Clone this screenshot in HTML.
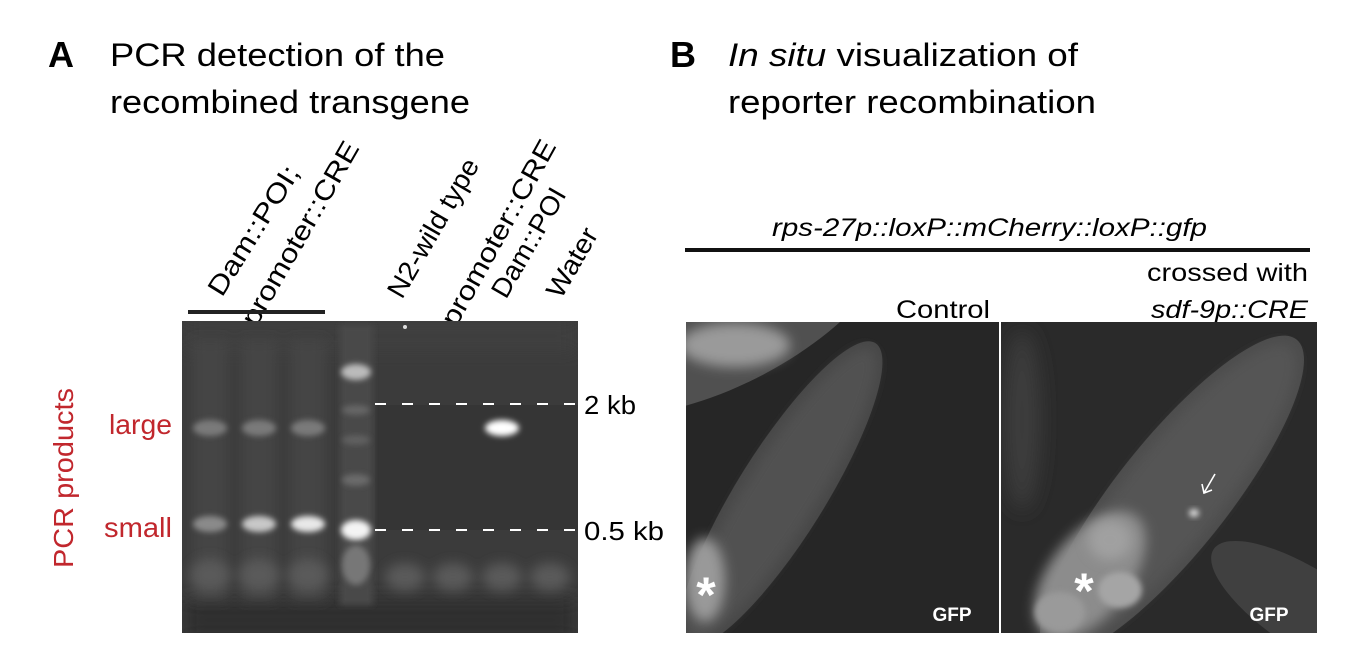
<!DOCTYPE html>
<html><head><meta charset="utf-8"><style>
html,body{margin:0;padding:0;background:#fff;width:1355px;height:667px;overflow:hidden}
svg{display:block}
text{font-family:"Liberation Sans",Arial,sans-serif}
</style></head><body>
<svg width="1355" height="667" viewBox="0 0 1355 667" xmlns="http://www.w3.org/2000/svg">
<defs>
<filter id="b3" x="-50%" y="-50%" width="200%" height="200%"><feGaussianBlur stdDeviation="3"/></filter>
<filter id="b6" x="-50%" y="-50%" width="200%" height="200%"><feGaussianBlur stdDeviation="6"/></filter>
<filter id="b10" x="-50%" y="-50%" width="200%" height="200%"><feGaussianBlur stdDeviation="10"/></filter>
<clipPath id="gel"><rect x="182" y="321" width="396" height="312"/></clipPath>
<clipPath id="p1"><rect x="686" y="322" width="313" height="311"/></clipPath>
<clipPath id="p2"><rect x="1001" y="322" width="316" height="311"/></clipPath>
</defs>

<!-- Titles -->
<text x="48" y="67" font-size="36" font-weight="bold">A</text>
<text x="110" y="66" font-size="32" textLength="335" lengthAdjust="spacingAndGlyphs">PCR detection of the</text>
<text x="110" y="113" font-size="32" textLength="360" lengthAdjust="spacingAndGlyphs">recombined transgene</text>
<text x="670" y="67" font-size="36" font-weight="bold">B</text>
<text x="728" y="66" font-size="32" textLength="350" lengthAdjust="spacingAndGlyphs"><tspan font-style="italic">In situ</tspan> visualization of</text>
<text x="728" y="113" font-size="32" textLength="368" lengthAdjust="spacingAndGlyphs">reporter recombination</text>

<!-- Rotated lane labels -->
<g font-size="27">
<text transform="translate(222,298) rotate(-58)" textLength="148" lengthAdjust="spacingAndGlyphs">Dam::POI;</text>
<text transform="translate(256,328) rotate(-60)" textLength="208" lengthAdjust="spacingAndGlyphs">promoter::CRE</text>
<text transform="translate(402,300) rotate(-60)" textLength="156" lengthAdjust="spacingAndGlyphs">N2-wild type</text>
<text transform="translate(456,328) rotate(-61)" textLength="208" lengthAdjust="spacingAndGlyphs">promoter::CRE</text>
<text transform="translate(506,300) rotate(-60)" textLength="122" lengthAdjust="spacingAndGlyphs">Dam::POI</text>
<text transform="translate(561,300) rotate(-60)" textLength="76" lengthAdjust="spacingAndGlyphs">Water</text>
</g>
<rect x="188" y="310" width="137" height="4" fill="#222"/>

<!-- Gel -->
<rect x="182" y="321" width="396" height="312" fill="#3b3b3b"/>
<g clip-path="url(#gel)">
<rect x="182" y="321" width="396" height="30" fill="#404040" filter="url(#b10)"/>
<rect x="182" y="600" width="396" height="40" fill="#2e2e2e" filter="url(#b10)"/>
<rect x="375" y="405" width="203" height="125" fill="#353535"/>
<g fill="#444" filter="url(#b6)">
<rect x="192" y="340" width="36" height="260"/><rect x="241" y="340" width="36" height="260"/><rect x="290" y="340" width="36" height="260"/>
</g>
<rect x="340" y="325" width="33" height="280" fill="#4a4a4a" filter="url(#b3)"/>
<ellipse cx="356" cy="372" rx="15" ry="8" fill="#bbb" filter="url(#b3)"/>
<ellipse cx="356" cy="410" rx="14" ry="5" fill="#666" filter="url(#b3)"/>
<ellipse cx="356" cy="440" rx="14" ry="5" fill="#606060" filter="url(#b3)"/>
<ellipse cx="356" cy="480" rx="14" ry="6" fill="#6a6a6a" filter="url(#b3)"/>
<ellipse cx="356" cy="530" rx="15" ry="10" fill="#f4f4f4" filter="url(#b3)"/>
<ellipse cx="356" cy="565" rx="14" ry="20" fill="#777" filter="url(#b3)"/>
<ellipse cx="210" cy="428" rx="17" ry="8" fill="#7a7a7a" filter="url(#b3)"/>
<ellipse cx="259" cy="428" rx="17" ry="8" fill="#7a7a7a" filter="url(#b3)"/>
<ellipse cx="308" cy="428" rx="17" ry="8" fill="#7a7a7a" filter="url(#b3)"/>
<ellipse cx="502" cy="428" rx="17" ry="8" fill="#ffffff" filter="url(#b3)"/>
<ellipse cx="210" cy="524" rx="17" ry="8" fill="#8a8a8a" filter="url(#b3)"/>
<ellipse cx="259" cy="524" rx="17" ry="8" fill="#c8c8c8" filter="url(#b3)"/>
<ellipse cx="308" cy="524" rx="17" ry="8" fill="#e8e8e8" filter="url(#b3)"/>
<g fill="#5a5a5a" filter="url(#b6)">
<ellipse cx="210" cy="575" rx="20" ry="16"/><ellipse cx="259" cy="575" rx="20" ry="16"/><ellipse cx="308" cy="575" rx="20" ry="16"/>
<ellipse cx="405" cy="577" rx="20" ry="14"/><ellipse cx="453" cy="577" rx="20" ry="14"/><ellipse cx="502" cy="577" rx="20" ry="14"/><ellipse cx="550" cy="577" rx="20" ry="14"/>
</g>
<circle cx="405" cy="327" r="2" fill="#ddd"/>
</g>
<line x1="375" y1="404" x2="578" y2="404" stroke="#fff" stroke-width="2" stroke-dasharray="11,16"/>
<line x1="375" y1="530" x2="578" y2="530" stroke="#fff" stroke-width="2" stroke-dasharray="11,16"/>
<text x="584" y="414" font-size="26" textLength="52" lengthAdjust="spacingAndGlyphs">2 kb</text>
<text x="584" y="540" font-size="26" textLength="80" lengthAdjust="spacingAndGlyphs">0.5 kb</text>

<!-- PCR products labels -->
<text transform="translate(73,568) rotate(-90)" font-size="28" fill="#c1272d" textLength="180" lengthAdjust="spacingAndGlyphs">PCR products</text>
<text x="172" y="434" font-size="28" fill="#c1272d" text-anchor="end" textLength="63" lengthAdjust="spacingAndGlyphs">large</text>
<text x="172" y="537" font-size="28" fill="#c1272d" text-anchor="end" textLength="68" lengthAdjust="spacingAndGlyphs">small</text>

<!-- Panel B header -->
<text x="772" y="236" font-size="25" font-style="italic" textLength="435" lengthAdjust="spacingAndGlyphs">rps-27p::loxP::mCherry::loxP::gfp</text>
<rect x="685" y="248" width="625" height="4" fill="#111"/>
<text x="1147" y="281" font-size="25" textLength="161" lengthAdjust="spacingAndGlyphs">crossed with</text>
<text x="1151" y="318" font-size="25" font-style="italic" textLength="157" lengthAdjust="spacingAndGlyphs">sdf-9p::CRE</text>
<text x="896" y="318" font-size="25" textLength="94" lengthAdjust="spacingAndGlyphs">Control</text>

<!-- Panel 1 -->
<rect x="686" y="322" width="313" height="311" fill="#262626"/>
<g clip-path="url(#p1)">
<ellipse cx="720" cy="290" rx="200" ry="95" transform="rotate(-28 720 290)" fill="#505050"/>
<ellipse cx="735" cy="345" rx="55" ry="22" fill="#9a9a9a" filter="url(#b6)"/>
<ellipse cx="781" cy="494" rx="178" ry="44" transform="rotate(-58 781 494)" fill="#474747"/>
<ellipse cx="781" cy="494" rx="170" ry="36" transform="rotate(-58 781 494)" fill="#515151" filter="url(#b6)"/>
<ellipse cx="705" cy="580" rx="20" ry="42" fill="#999" filter="url(#b6)"/>
</g>
<text x="706" y="612" font-size="50" font-weight="bold" fill="#fff" text-anchor="middle">*</text>
<text x="952" y="621" font-size="19" font-weight="bold" fill="#fff" text-anchor="middle">GFP</text>

<!-- Panel 2 -->
<rect x="1001" y="322" width="316" height="311" fill="#2a2a2a"/>
<g clip-path="url(#p2)">
<ellipse cx="1022" cy="420" rx="18" ry="90" fill="#3c3c3c" filter="url(#b10)"/>
<ellipse cx="1310" cy="612" rx="115" ry="40" transform="rotate(33 1310 612)" fill="#404040"/>
<ellipse cx="1172" cy="496" rx="200" ry="56" transform="rotate(-51.5 1172 496)" fill="#4c4c4c"/>
<ellipse cx="1172" cy="496" rx="190" ry="48" transform="rotate(-51.5 1172 496)" fill="#555" filter="url(#b6)"/>
<ellipse cx="1090" cy="575" rx="40" ry="75" transform="rotate(38 1090 575)" fill="#8c8c8c" filter="url(#b6)"/>
<ellipse cx="1110" cy="540" rx="22" ry="20" fill="#a0a0a0" filter="url(#b6)"/>
<ellipse cx="1120" cy="590" rx="22" ry="18" fill="#a5a5a5" filter="url(#b3)"/>
<ellipse cx="1060" cy="612" rx="25" ry="20" fill="#9a9a9a" filter="url(#b3)"/>
<ellipse cx="1194" cy="513" rx="5" ry="4" fill="#ddd" filter="url(#b3)"/>
</g>
<line x1="1215" y1="474" x2="1204" y2="493" stroke="#fff" stroke-width="1.6"/>
<polyline points="1202,484 1204,493 1212,490" fill="none" stroke="#fff" stroke-width="1.6"/>
<text x="1084" y="608" font-size="50" font-weight="bold" fill="#fff" text-anchor="middle">*</text>
<text x="1269" y="621" font-size="19" font-weight="bold" fill="#fff" text-anchor="middle">GFP</text>
</svg>
</body></html>
